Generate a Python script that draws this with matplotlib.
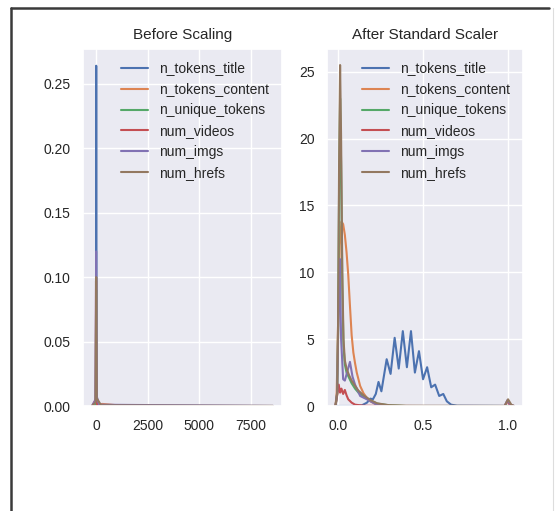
import matplotlib
matplotlib.use("Agg")
import matplotlib.pyplot as plt
from matplotlib.lines import Line2D
import seaborn as sns

sns.set_theme(style="darkgrid")
plt.rcParams["font.family"] = ["Liberation Sans", "DejaVu Sans"]

labels = ["n_tokens_title", "n_tokens_content", "n_unique_tokens",
          "num_videos", "num_imgs", "num_hrefs"]
colors = ["#4c72b0", "#dd8452", "#55a868", "#c44e52", "#8172b3", "#937860"]

# --- before scaling (raw units), density curves ---
before_title_x = [-190, -15, 0, 10, 20, 35, 8560]
before_title_y = [0, 0, 0.03, 0.264, 0.03, 0, 0]
before_content_x = [-190, 0, 300, 600, 1000, 1500, 2500, 4000, 8560]
before_content_y = [0, 0.0008, 0.0016, 0.0012, 0.0006, 0.0002, 0.00003, 0, 0]
before_unique_x = [-190, -15, 5, 25, 8560]
before_unique_y = [0, 0, 0.09, 0, 0]
before_videos_x = [-190, -20, 0, 20, 60, 8560]
before_videos_y = [0, 0.005, 0.097, 0.005, 0, 0]
before_imgs_x = [-190, -20, 5, 25, 150, 8560]
before_imgs_y = [0, 0.005, 0.12, 0.008, 0.001, 0]
before_hrefs_x = [-190, -20, 10, 35, 250, 8560]
before_hrefs_y = [0, 0.003, 0.1, 0.006, 0.0005, 0]

# --- after standard scaler ---
after_title_x = [-0.015, 0.10, 0.14, 0.17, 0.19, 0.205, 0.222, 0.238, 0.255,
                 0.286, 0.309, 0.333, 0.357, 0.381, 0.405, 0.429, 0.452,
                 0.476, 0.500, 0.524, 0.548, 0.571, 0.595, 0.619, 0.640,
                 0.665, 0.70, 1.035]
after_title_y = [0, 0, 0.05, 0.25, 0.55, 0.5, 0.9, 1.8, 1.1,
                 3.5, 2.4, 5.1, 2.8, 5.6, 2.9, 5.6, 2.5,
                 4.1, 2.0, 2.9, 1.4, 1.6, 0.75, 0.9, 0.35,
                 0.1, 0.02, 0]
after_content_x = [-0.015, -0.008, 0.0, 0.01, 0.02, 0.03, 0.04, 0.05, 0.06,
                   0.07, 0.08, 0.09, 0.10, 0.11, 0.13, 0.15, 0.17, 0.19,
                   0.22, 0.26, 0.32, 0.5, 1.035]
after_content_y = [0, 1, 6, 12, 13.8, 13.6, 12.8, 11.5, 9.8,
                   7.5, 5.3, 4.0, 3.2, 2.5, 1.5, 0.95, 0.6, 0.35,
                   0.15, 0.05, 0.01, 0, 0]
after_unique_x = [-0.015, -0.005, 0.0, 0.006, 0.012, 0.018, 0.025, 0.032,
                  0.04, 0.05, 0.065, 0.08, 0.10, 0.12, 0.15, 0.19, 0.23,
                  0.3, 0.4, 1.035]
after_unique_y = [0, 0.9, 5.4, 16, 23, 18, 9, 4.5,
                  3.1, 2.5, 2.1, 1.7, 1.3, 1.0, 0.7, 0.4, 0.18,
                  0.05, 0, 0]
after_videos_x = [-0.015, -0.005, 0.004, 0.012, 0.02, 0.03, 0.04, 0.05, 0.06,
                  0.08, 0.10, 0.15, 0.3, 0.98, 0.995, 1.01, 1.035]
after_videos_y = [0, 0.8, 1.6, 1.0, 1.3, 0.9, 1.2, 0.8, 0.5,
                  0.25, 0.1, 0.02, 0, 0, 0.35, 0.1, 0]
after_imgs_x = [-0.015, -0.005, 0.004, 0.01, 0.018, 0.03, 0.04, 0.055, 0.07,
                0.085, 0.10, 0.13, 0.17, 0.22, 0.3, 0.98, 0.997, 1.015, 1.035]
after_imgs_y = [0, 1, 8, 11, 5, 2.0, 1.9, 2.6, 3.3,
                2.2, 1.6, 0.75, 0.5, 0.15, 0, 0, 0.45, 0.1, 0]
after_hrefs_x = [-0.015, -0.005, 0.0, 0.006, 0.012, 0.018, 0.025, 0.032,
                 0.04, 0.05, 0.065, 0.08, 0.10, 0.12, 0.15, 0.19, 0.23, 0.3,
                 0.4, 0.98, 1.0, 1.02, 1.035]
after_hrefs_y = [0, 1, 6, 18, 25.5, 20, 10, 5,
                 3.4, 2.8, 2.3, 1.9, 1.5, 1.15, 0.8, 0.45, 0.2, 0.06,
                 0.01, 0, 0.5, 0.08, 0]

before = [(before_title_x, before_title_y), (before_content_x, before_content_y),
          (before_unique_x, before_unique_y), (before_videos_x, before_videos_y),
          (before_imgs_x, before_imgs_y), (before_hrefs_x, before_hrefs_y)]
after = [(after_title_x, after_title_y), (after_content_x, after_content_y),
         (after_unique_x, after_unique_y), (after_videos_x, after_videos_y),
         (after_imgs_x, after_imgs_y), (after_hrefs_x, after_hrefs_y)]

W, H = 559, 511
fig = plt.figure(figsize=(W / 100, H / 100), dpi=100)
fig.patch.set_facecolor("white")

ax1 = fig.add_axes([83 / W, 1 - 406 / H, 199 / W, 357 / H])
ax2 = fig.add_axes([327 / W, 1 - 406 / H, 196 / W, 357 / H])

for ax, curves, title in [(ax1, before, "Before Scaling"),
                          (ax2, after, "After Standard Scaler")]:
    for (x, y), lab, c in zip(curves, labels, colors):
        ax.plot(x, y, color=c, lw=1.5, label=lab)
    ax.set_title(title, fontsize=11, pad=7.5, color=".15")
    ax.tick_params(length=0, pad=9, labelsize=10, labelcolor=".15")
    ax.legend(loc="upper right", fontsize=10, frameon=False)

ax1.set_xlim(-630, 9000)
ax1.set_ylim(0, 0.277)
ax1.set_xticks([0, 2500, 5000, 7500])
ax1.set_yticks([0, 0.05, 0.10, 0.15, 0.20, 0.25])

ax2.set_xlim(-0.065, 1.088)
ax2.set_ylim(0, 26.7)
ax2.set_xticks([0.0, 0.5, 1.0])
ax2.set_yticks([0, 5, 10, 15, 20, 25])

# frame around the figure (top/left dark, right faint)
top = 1 - 8 / H
fig.add_artist(Line2D([11 / W, 549 / W], [top, top], color="#3a3a3a", lw=1.8,
                      transform=fig.transFigure))
fig.add_artist(Line2D([11 / W, 11 / W], [top, 0], color="#3a3a3a", lw=1.8,
                      transform=fig.transFigure))
fig.add_artist(Line2D([553 / W, 553 / W], [top, 0], color="#dddddd", lw=0.8,
                      transform=fig.transFigure))

fig.savefig("out.png", dpi=100)
